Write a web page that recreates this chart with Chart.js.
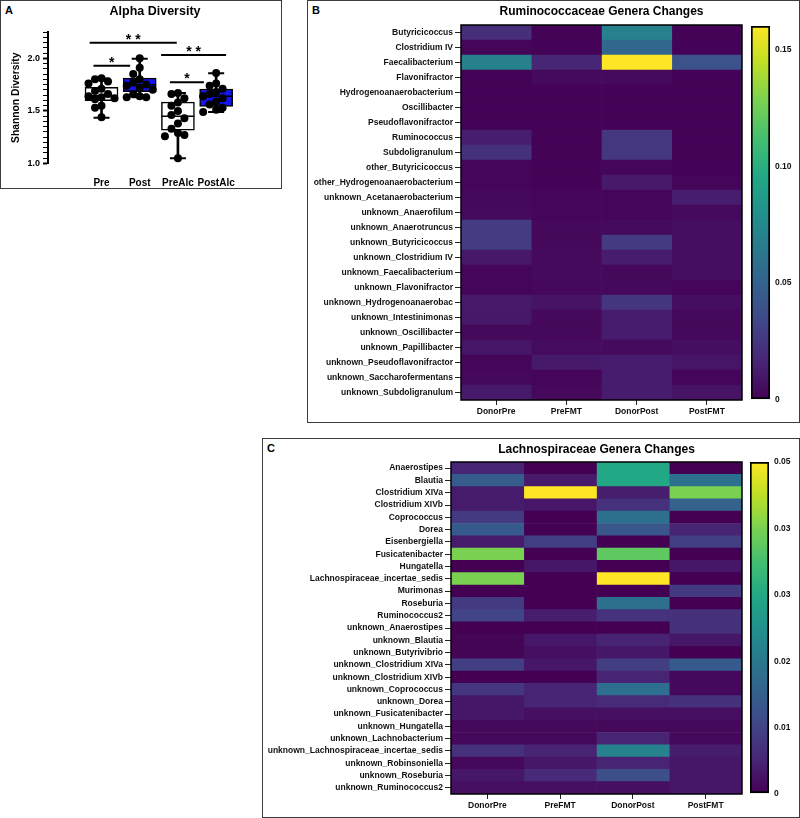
<!DOCTYPE html>
<html>
<head>
<meta charset="utf-8">
<script src="https://cdn.jsdelivr.net/npm/chart.js@4.4.1/dist/chart.umd.min.js"></script>
<style>
  body { margin: 0; width: 800px; height: 818px; background: #fff; position: relative; overflow: hidden;
         font-family: "Liberation Sans", Arial, sans-serif; }
  canvas, .frame, .tag { position: absolute; }
  .frame { box-sizing: border-box; border: 1.5px solid #3c3c3c; }
  .tag { font-weight: bold; font-size: 11px; color: #000; line-height: 1; }
</style>
</head>
<body>
<div class="frame" style="left:0;top:0;width:282px;height:189px"></div>
<div class="frame" style="left:307px;top:0;width:493px;height:423px"></div>
<div class="frame" style="left:262px;top:438px;width:538px;height:380px"></div>
<div class="tag" style="left:5px;top:5px">A</div>
<div class="tag" style="left:312px;top:5px">B</div>
<div class="tag" style="left:267px;top:443px">C</div>

<canvas id="alpha" width="281" height="188" style="left:0;top:0"></canvas>
<canvas id="rumHeat" width="440" height="422" style="left:307px;top:0"></canvas>
<canvas id="rumBar" width="53" height="422" style="left:745px;top:0"></canvas>
<canvas id="lacHeat" width="485" height="379" style="left:262px;top:438px"></canvas>
<canvas id="lacBar" width="53" height="379" style="left:745px;top:438px"></canvas>

<script>
// ---- panel A: alpha diversity ----
const groups = ["Pre", "Post", "PreAlc", "PostAlc"];
const boxMin = [1.436, 1.63, 1.05, 1.489];
const boxQ1 = [1.598, 1.683, 1.317, 1.542];
const boxMedian = [1.645, 1.749, 1.448, 1.639];
const boxQ3 = [1.723, 1.811, 1.583, 1.708];
const boxMax = [1.808, 1.995, 1.671, 1.858];

const prePoints = [1.81, 1.80, 1.78, 1.76, 1.71, 1.69, 1.66, 1.64, 1.63, 1.62, 1.61, 1.55, 1.53, 1.44];
const postPoints = [2.00, 1.91, 1.85, 1.80, 1.77, 1.75, 1.74, 1.72, 1.70, 1.66, 1.64, 1.63, 1.63];
const preAlcPoints = [1.67, 1.66, 1.62, 1.58, 1.55, 1.50, 1.46, 1.43, 1.38, 1.33, 1.29, 1.27, 1.26, 1.05];
const postAlcPoints = [1.86, 1.76, 1.74, 1.71, 1.68, 1.66, 1.64, 1.62, 1.59, 1.56, 1.53, 1.51, 1.49];

// significance brackets
const sigFrom = [-0.31, -0.21, 1.56, 1.79];
const sigTo = [1.97, 0.75, 3.26, 2.68];
const sigY = [2.148, 1.93, 2.031, 1.772];
const sigLabel = ["* *", "*", "* *", "*"];

// ---- panel B: Ruminococcaceae ----
const heatColumns = ["DonorPre", "PreFMT", "DonorPost", "PostFMT"];
const ruminoGenera = ["Butyricicoccus", "Clostridium IV", "Faecalibacterium", "Flavonifractor",
  "Hydrogenoanaerobacterium", "Oscillibacter", "Pseudoflavonifractor", "Ruminococcus", "Subdoligranulum",
  "other_Butyricicoccus", "other_Hydrogenoanaerobacterium", "unknown_Acetanaerobacterium", "unknown_Anaerofilum",
  "unknown_Anaerotruncus", "unknown_Butyricicoccus", "unknown_Clostridium IV", "unknown_Faecalibacterium",
  "unknown_Flavonifractor", "unknown_Hydrogenoanaerobac", "unknown_Intestinimonas", "unknown_Oscillibacter",
  "unknown_Papillibacter", "unknown_Pseudoflavonifractor", "unknown_Saccharofermentans", "unknown_Subdoligranulum"];
const ruminoDonorPre = [0.021, 0.002, 0.070, 0.001, 0.001, 0.001, 0.001, 0.013, 0.022, 0.002, 0.002, 0.003, 0.004,
  0.028, 0.028, 0.010, 0.002, 0.002, 0.011, 0.010, 0.003, 0.009, 0.002, 0.003, 0.011];
const ruminoPreFMT = [0.001, 0.001, 0.017, 0.004, 0.001, 0.001, 0.001, 0.001, 0.001, 0.001, 0.001, 0.002, 0.002,
  0.003, 0.003, 0.004, 0.004, 0.003, 0.008, 0.003, 0.003, 0.005, 0.011, 0.002, 0.003];
const ruminoDonorPost = [0.069, 0.053, 0.160, 0.004, 0.001, 0.001, 0.001, 0.025, 0.025, 0.002, 0.011, 0.002, 0.002,
  0.004, 0.027, 0.012, 0.003, 0.003, 0.024, 0.012, 0.012, 0.004, 0.012, 0.012, 0.012];
const ruminoPostFMT = [0.001, 0.001, 0.040, 0.001, 0.001, 0.001, 0.001, 0.001, 0.001, 0.001, 0.002, 0.013, 0.004,
  0.006, 0.006, 0.006, 0.006, 0.002, 0.006, 0.003, 0.003, 0.006, 0.009, 0.002, 0.008];
const ruminoMax = 0.16;
const ruminoTicks = [0, 0.05, 0.10, 0.15];
const ruminoTickLabels = ["0", "0.05", "0.10", "0.15"];

// ---- panel C: Lachnospiraceae ----
const lachnoGenera = ["Anaerostipes", "Blautia", "Clostridium XIVa", "Clostridium XIVb", "Coprococcus", "Dorea",
  "Eisenbergiella", "Fusicatenibacter", "Hungatella", "Lachnospiraceae_incertae_sedis", "Murimonas", "Roseburia",
  "Ruminococcus2", "unknown_Anaerostipes", "unknown_Blautia", "unknown_Butyrivibrio", "unknown_Clostridium XIVa",
  "unknown_Clostridium XIVb", "unknown_Coprococcus", "unknown_Dorea", "unknown_Fusicatenibacter",
  "unknown_Hungatella", "unknown_Lachnobacterium", "unknown_Lachnospiraceae_incertae_sedis",
  "unknown_Robinsoniella", "unknown_Roseburia", "unknown_Ruminococcus2"];
const lachnoDonorPre = [0.005, 0.0145, 0.0037, 0.0037, 0.0085, 0.014, 0.0037, 0.040, 0.0, 0.040, 0.0, 0.0085,
  0.010, 0.0, 0.0005, 0.0005, 0.009, 0.0, 0.008, 0.003, 0.003, 0.001, 0.001, 0.007, 0.001, 0.003, 0.002];
const lachnoPreFMT = [0.0, 0.0035, 0.050, 0.003, 0.0, 0.0, 0.009, 0.0, 0.003, 0.0, 0.0, 0.0,
  0.004, 0.0, 0.003, 0.002, 0.003, 0.0, 0.005, 0.005, 0.002, 0.001, 0.001, 0.005, 0.003, 0.006, 0.002];
const lachnoDonorPost = [0.030, 0.030, 0.004, 0.007, 0.0185, 0.0135, 0.0, 0.0375, 0.0, 0.050, 0.0, 0.0185,
  0.007, 0.0, 0.005, 0.003, 0.009, 0.005, 0.018, 0.006, 0.002, 0.001, 0.005, 0.022, 0.005, 0.012, 0.002];
const lachnoPostFMT = [0.0, 0.0185, 0.040, 0.0155, 0.0, 0.005, 0.009, 0.0, 0.003, 0.0, 0.0085, 0.0,
  0.007, 0.007, 0.003, 0.0, 0.014, 0.001, 0.001, 0.007, 0.002, 0.001, 0.001, 0.004, 0.003, 0.003, 0.003];
const lachnoMax = 0.05;
const lachnoTicks = [0, 0.01, 0.02, 0.03, 0.04, 0.05];
const lachnoTickLabels = ["0", "0.01", "0.02", "0.03", "0.03", "0.05"];

Chart.defaults.font.family = '"Liberation Sans", Arial, sans-serif';
Chart.defaults.color = "#111";

const VIRIDIS = [[68,1,84],[72,36,117],[65,68,135],[53,95,141],[42,120,142],[33,145,140],
  [34,168,132],[68,191,112],[122,209,81],[189,223,38],[253,231,37]];

function viridis(t) {
  t = Math.max(0, Math.min(1, t));
  const s = t * 10, i = Math.min(9, Math.floor(s)), f = s - i;
  const a = VIRIDIS[i], b = VIRIDIS[i + 1];
  return "rgb(" + a.map((c, k) => Math.round(c + (b[k] - c) * f)).join(",") + ")";
}

// spread points sideways when they would overlap (like a small beeswarm)
function swarm(values, gi) {
  const placed = [];
  return values.map((v) => {
    for (const dx of [0, -0.17, 0.17, -0.34, 0.34, -0.5, 0.5]) {
      if (placed.every((p) => Math.hypot((p.x - dx) * 51, (p.y - v) * 106) >= 8)) {
        placed.push({ x: dx, y: v });
        return { x: gi + dx, y: v };
      }
    }
    return { x: gi, y: v };
  });
}

const sigPlugin = {
  id: "sigText",
  afterDatasetsDraw(chart) {
    const { ctx, scales } = chart;
    ctx.save();
    ctx.fillStyle = "#000";
    ctx.font = 'bold 14px "Liberation Sans", Arial, sans-serif';
    ctx.textAlign = "center";
    ctx.textBaseline = "alphabetic";
    sigLabel.forEach((t, i) => {
      const x = scales.x.getPixelForValue((sigFrom[i] + sigTo[i]) / 2);
      const y = scales.y.getPixelForValue(sigY[i]);
      ctx.fillText(t, x, y + 1);
    });
    ctx.restore();
  },
};

const pointSets = [prePoints, postPoints, preAlcPoints, postAlcPoints];
const boxFill = ["#ffffff", "#1414ee", "#ffffff", "#1414ee"];

new Chart(document.getElementById("alpha"), {
  type: "bar",
  data: {
    datasets: [
      ...pointSets.map((vals, gi) => ({
        type: "scatter",
        data: swarm(vals, gi),
        pointRadius: 4,
        backgroundColor: "#000",
        borderColor: "#000",
        borderWidth: 0,
        order: 0,
      })),
      ...sigY.map((y, i) => ({
        type: "line",
        data: [{ x: sigFrom[i], y: y }, { x: sigTo[i], y: y }],
        borderColor: "#000",
        borderWidth: 2,
        pointRadius: 0,
        order: 0,
      })),
      {
        type: "scatter",
        data: groups.map((g, i) => ({ x: i, y: boxMedian[i] })),
        pointStyle: "line", pointRadius: 16.5, borderWidth: 1.5, borderColor: "#000",
        order: 1,
      },
      {
        type: "scatter",
        data: groups.map((g, i) => ({ x: i, y: boxMax[i] })),
        pointStyle: "line", pointRadius: 8, borderWidth: 2, borderColor: "#000",
        order: 1,
      },
      {
        type: "scatter",
        data: groups.map((g, i) => ({ x: i, y: boxMin[i] })),
        pointStyle: "line", pointRadius: 8, borderWidth: 2, borderColor: "#000",
        order: 1,
      },
      {
        type: "bar",
        data: groups.map((g, i) => ({ x: i, y: [boxQ1[i], boxQ3[i]] })),
        backgroundColor: boxFill,
        borderColor: "#000",
        borderWidth: 1.5,
        borderSkipped: false,
        barThickness: 33,
        grouped: false,
        order: 2,
      },
      {
        type: "bar",
        data: groups.map((g, i) => ({ x: i, y: [boxMin[i], boxMax[i]] })),
        backgroundColor: "#000",
        barThickness: 2,
        grouped: false,
        order: 3,
      },
    ],
  },
  options: {
    responsive: false,
    animation: false,
    devicePixelRatio: 1,
    layout: { padding: { left: 0, right: 19, top: 0, bottom: 0 } },
    plugins: {
      legend: { display: false },
      tooltip: { enabled: false },
      title: {
        display: true,
        text: "Alpha Diversity",
        fullSize: false,
        color: "#000",
        font: { size: 12.5, weight: "bold" },
        padding: { top: 4, bottom: 13 },
      },
    },
    scales: {
      x: {
        type: "linear",
        min: -0.7,
        max: 3.5,
        afterBuildTicks: (s) => { s.ticks = groups.map((g, i) => ({ value: i })); },
        afterFit: (s) => { s.height = 24.5; },
        ticks: {
          callback: (v, i) => groups[i],
          autoSkip: false, maxRotation: 0, padding: 6,
          color: "#000", font: { size: 10, weight: "bold" },
        },
        grid: { display: false },
        border: { display: false },
      },
      y: {
        min: 1,
        max: 2.25,
        afterBuildTicks: (s) => {
          const t = [];
          for (let k = 0; k <= 25; k++) t.push({ value: Math.round((1 + k * 0.05) * 100) / 100 });
          s.ticks = t;
        },
        afterFit: (s) => { s.width = 48; },
        ticks: {
          autoSkip: false, padding: 3, color: "#000",
          font: { size: 9, weight: "bold" },
          callback: (v) => (Math.abs(v * 2 - Math.round(v * 2)) < 1e-6 ? v.toFixed(1) : ""),
        },
        grid: {
          drawOnChartArea: false, tickLength: 5, tickColor: "#000",
          tickWidth: (c) => (Math.abs(c.tick.value * 2 - Math.round(c.tick.value * 2)) < 1e-6 ? 2 : 1),
        },
        border: { display: true, color: "#000", width: 2 },
        title: {
          display: true, text: "Shannon Diversity", color: "#000",
          font: { size: 10.3, weight: "bold" }, padding: { top: 10, bottom: 0 },
        },
      },
    },
  },
  plugins: [sigPlugin],
});

// ---- heatmaps ----
const framePlugin = {
  id: "frame",
  afterDatasetsDraw(chart) {
    const { ctx, chartArea: a } = chart;
    ctx.save();
    ctx.strokeStyle = "#000";
    ctx.lineWidth = 1.5;
    ctx.strokeRect(a.left, a.top, a.right - a.left, a.bottom - a.top);
    ctx.restore();
  },
};

function drawHeatmap(id, title, genera, columnValues, vmax, geom) {
  new Chart(document.getElementById(id), {
    type: "bar",
    data: {
      labels: genera,
      datasets: columnValues.map((vals, j) => ({
        data: genera.map(() => [j, j + 1]),
        backgroundColor: vals.map((v) => viridis(v / vmax)),
        borderWidth: 0,
        barPercentage: 1,
        categoryPercentage: 1,
        grouped: false,
      })),
    },
    options: {
      indexAxis: "y",
      responsive: false,
      animation: false,
      devicePixelRatio: 1,
      layout: { padding: { left: 0, right: geom.padRight, top: 0, bottom: 0 } },
      plugins: {
        legend: { display: false },
        tooltip: { enabled: false },
        title: {
          display: true, text: title, fullSize: false, color: "#000",
          font: { size: 12, weight: "bold" },
          padding: { top: geom.titleTop, bottom: geom.titleBottom },
        },
      },
      scales: {
        x: {
          type: "linear", min: 0, max: 4,
          afterBuildTicks: (s) => { s.ticks = heatColumns.map((c, j) => ({ value: j + 0.5 })); },
          afterFit: (s) => { s.height = geom.xHeight; },
          ticks: {
            callback: (v, i) => heatColumns[i], autoSkip: false, maxRotation: 0, padding: 2,
            color: "#111", font: { size: 8.5, weight: "bold" },
          },
          grid: { drawOnChartArea: false, tickLength: 5, tickColor: "#222", tickWidth: 1 },
          border: { display: false },
        },
        y: {
          afterFit: (s) => { s.width = geom.yWidth; },
          ticks: { autoSkip: false, padding: 2, color: "#111", font: { size: 8.5, weight: "bold" } },
          grid: { offset: false, drawOnChartArea: false, tickLength: 6, tickColor: "#222", tickWidth: 1 },
          border: { display: false },
        },
      },
    },
    plugins: [framePlugin],
  });
}

function drawColorbar(id, vmax, tickValues, tickLabels, geom) {
  new Chart(document.getElementById(id), {
    type: "bar",
    data: {
      labels: [""],
      datasets: [{
        data: [[0, vmax]],
        backgroundColor: (c) => {
          const a = c.chart.chartArea;
          if (!a) return "#440154";
          const g = c.chart.ctx.createLinearGradient(0, a.bottom, 0, a.top);
          VIRIDIS.forEach((rgb, k) => g.addColorStop(k / 10, "rgb(" + rgb.join(",") + ")"));
          return g;
        },
        borderColor: "#000",
        borderWidth: 2,
        borderSkipped: false,
        barPercentage: 1,
        categoryPercentage: 1,
      }],
    },
    options: {
      responsive: false,
      animation: false,
      devicePixelRatio: 1,
      layout: { padding: { left: geom.padLeft, right: 0, top: geom.top, bottom: geom.bottom } },
      plugins: { legend: { display: false }, tooltip: { enabled: false } },
      scales: {
        x: { display: false },
        y: {
          position: "right",
          min: 0, max: vmax,
          z: 1,
          afterBuildTicks: (s) => { s.ticks = tickValues.map((v) => ({ value: v })); },
          afterFit: (s) => { s.width = geom.yWidth; },
          ticks: {
            callback: (v, i) => tickLabels[i], autoSkip: false, padding: 5,
            color: "#111", font: { size: 8.5, weight: "bold" },
          },
          grid: {
            drawTicks: false, lineWidth: 2,
            color: (c) => (c.tick.value > 0 && c.tick.value < vmax ? "#000" : "rgba(0,0,0,0)"),
          },
          border: { display: false, dash: [9, 3] },
        },
      },
    },
  });
}

drawHeatmap("rumHeat", "Ruminococcaceae Genera Changes", ruminoGenera,
  [ruminoDonorPre, ruminoPreFMT, ruminoDonorPost, ruminoPostFMT], ruminoMax,
  { padRight: 5, titleTop: 4.8, titleBottom: 5.8, xHeight: 22, yWidth: 154 });
drawColorbar("rumBar", ruminoMax, ruminoTicks, ruminoTickLabels,
  { padLeft: 6, top: 26, bottom: 22, yWidth: 28 });

drawHeatmap("lacHeat", "Lachnospiraceae Genera Changes", lachnoGenera,
  [lachnoDonorPre, lachnoPreFMT, lachnoDonorPost, lachnoPostFMT], lachnoMax,
  { padRight: 5, titleTop: 4.8, titleBottom: 4.8, xHeight: 23, yWidth: 189 });
drawColorbar("lacBar", lachnoMax, lachnoTicks, lachnoTickLabels,
  { padLeft: 5, top: 24, bottom: 23, yWidth: 29 });
</script>
</body>
</html>
